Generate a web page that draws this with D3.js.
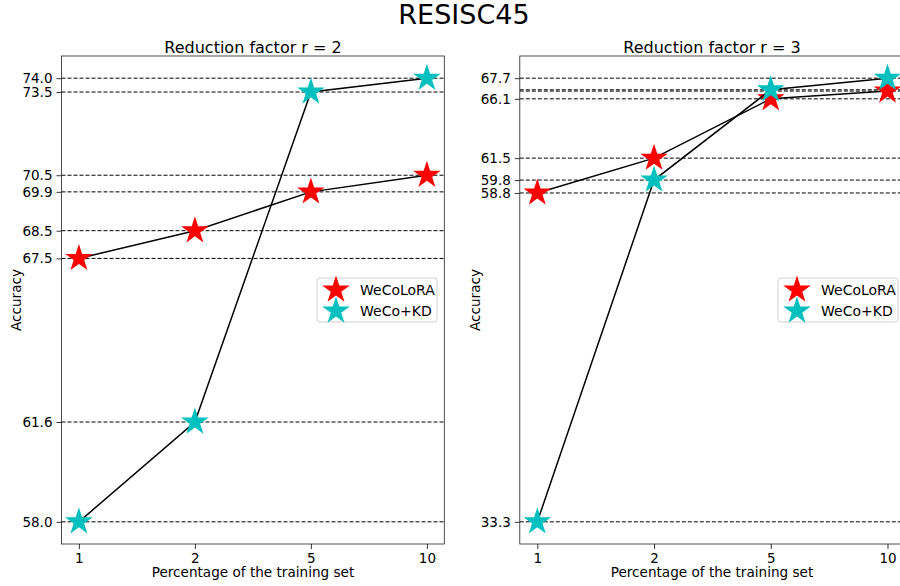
<!DOCTYPE html>
<html>
<head>
<meta charset="utf-8">
<script src="https://cdn.jsdelivr.net/npm/d3@7"></script>
<style>
  body { margin: 0; background: white; }
  svg { display: block; font-family: "DejaVu Sans", sans-serif; }
</style>
</head>
<body>
<div id="chart"></div>
<script>
// training set percentages (categorical x)
let percents = ["1", "2", "5", "10"];

// reduction factor r = 2
let r2WeCoLoRA = [67.5, 68.5, 69.9, 70.5];
let r2WeCoKD = [58.0, 61.6, 73.5, 74.0];
let r2Ticks = [58.0, 61.6, 67.5, 68.5, 69.9, 70.5, 73.5, 74.0];

// reduction factor r = 3
let r3WeCoLoRA = [58.8, 61.5, 66.1, 66.7];
let r3WeCoKD = [33.3, 59.8, 66.8, 67.7];
let r3Ticks = [33.3, 58.8, 59.8, 61.5, 66.1, 67.7];

let seriesNames = ["WeCoLoRA", "WeCo+KD"];
let seriesColors = ["#ff0000", "#00bfbf"];

let width = 900, height = 586;

let svg = d3.select("#chart").append("svg")
    .attr("width", width)
    .attr("height", height);

svg.append("text")
    .attr("x", 464)
    .attr("y", 24)
    .attr("text-anchor", "middle")
    .style("font-size", "27px")
    .text("RESISC45");

let star = d3.symbol().type(d3.symbolStar).size(235);

function drawPanel(opts) {
    let left = opts.left, right = opts.right, top = 56, bottom = 544;
    let g = svg.append("g");

    // 5% margins like matplotlib
    let x = d3.scaleLinear()
        .domain([-0.15, percents.length - 1 + 0.15])
        .range([left, right]);
    let all = opts.series[0].concat(opts.series[1]);
    let lo = d3.min(all), hi = d3.max(all), pad = (hi - lo) * 0.05;
    let y = d3.scaleLinear()
        .domain([lo - pad, hi + pad])
        .range([bottom, top]);

    let clipId = "clip" + opts.id;
    svg.append("clipPath").attr("id", clipId)
        .append("rect")
        .attr("x", left).attr("y", top)
        .attr("width", right - left).attr("height", bottom - top);

    let plot = g.append("g").attr("clip-path", `url(#${clipId})`);

    // dashed reference lines at every value
    plot.selectAll("line.ref")
        .data(all)
        .enter()
        .append("line")
        .attr("class", "ref")
        .attr("x1", left)
        .attr("x2", right)
        .attr("y1", d => y(d))
        .attr("y2", d => y(d))
        .attr("stroke", "black")
        .attr("stroke-width", 1)
        .attr("stroke-dasharray", "4,2");

    let line = d3.line()
        .x((d, i) => x(i))
        .y(d => y(d));

    opts.series.forEach((vals, s) => {
        plot.append("path")
            .datum(vals)
            .attr("d", line)
            .attr("fill", "none")
            .attr("stroke", "black")
            .attr("stroke-width", 1.5);
        plot.selectAll("path.m" + s)
            .data(vals)
            .enter()
            .append("path")
            .attr("class", "m" + s)
            .attr("d", star)
            .attr("transform", (d, i) => `translate(${x(i)},${y(d)})`)
            .attr("fill", seriesColors[s]);
    });

    // frame
    g.append("rect")
        .attr("x", left).attr("y", top)
        .attr("width", right - left).attr("height", bottom - top)
        .attr("fill", "none")
        .attr("stroke", "#222")
        .attr("stroke-width", 0.8);

    let xAxis = d3.axisBottom(x)
        .tickValues(d3.range(percents.length))
        .tickFormat(i => percents[i])
        .tickSize(5)
        .tickPadding(4);
    let xa = g.append("g")
        .attr("transform", `translate(0,${bottom})`)
        .call(xAxis);

    let yAxis = d3.axisLeft(y)
        .tickValues(opts.ticks)
        .tickFormat(d3.format(".1f"))
        .tickSize(5)
        .tickPadding(4);
    let ya = g.append("g")
        .attr("transform", `translate(${left},0)`)
        .call(yAxis);

    [xa, ya].forEach(a => {
        a.select(".domain").remove();
        a.selectAll("text").style("font-size", "13.5px").attr("fill", "black")
            .style("font-family", "DejaVu Sans, sans-serif");
        a.selectAll("line").attr("stroke", "black").attr("stroke-width", 0.8);
    });

    g.append("text")
        .attr("x", opts.titleX)
        .attr("y", 53)
        .attr("text-anchor", "middle")
        .style("font-size", "16px")
        .text(opts.title);

    g.append("text")
        .attr("x", opts.titleX)
        .attr("y", 577)
        .attr("text-anchor", "middle")
        .style("font-size", "13.6px")
        .text("Percentage of the training set");

    g.append("text")
        .attr("transform", `translate(${opts.ylabelX},300) rotate(-90)`)
        .attr("text-anchor", "middle")
        .style("font-size", "13.6px")
        .text("Accuracy");

    // legend
    let lg = g.append("g").attr("transform", `translate(${opts.legendX},278)`);
    lg.append("rect")
        .attr("width", 120).attr("height", 44)
        .attr("rx", 3)
        .attr("fill", "white").attr("fill-opacity", 0.8)
        .attr("stroke", "#d0d0d0");
    seriesNames.forEach((name, s) => {
        lg.append("path")
            .attr("d", star)
            .attr("transform", `translate(19,${12 + s * 21})`)
            .attr("fill", seriesColors[s]);
        lg.append("text")
            .attr("x", 43)
            .attr("y", 17 + s * 21)
            .style("font-size", "14px")
            .text(name);
    });
}

drawPanel({
    id: 1, left: 61.5, right: 444.3,
    series: [r2WeCoLoRA, r2WeCoKD], ticks: r2Ticks,
    title: "Reduction factor r = 2", titleX: 253, ylabelX: 21, legendX: 317
});

drawPanel({
    id: 2, left: 519.8, right: 905,
    series: [r3WeCoLoRA, r3WeCoKD], ticks: r3Ticks,
    title: "Reduction factor r = 3", titleX: 712, ylabelX: 480, legendX: 778
});
</script>
</body>
</html>
